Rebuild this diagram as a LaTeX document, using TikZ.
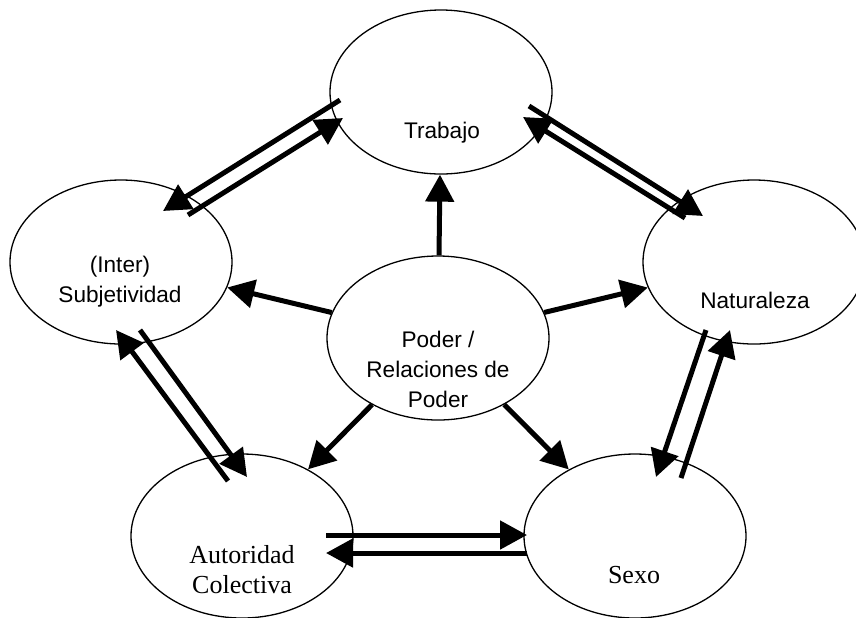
\documentclass[tikz,border=0pt]{standalone}
\usepackage{fontspec}
\setmainfont{Liberation Serif}
\setsansfont{Liberation Sans}
\usetikzlibrary{shapes.geometric,arrows.meta}

\tikzset{
  bubble/.style={draw, ellipse, line width=0.65pt, minimum width=111pt, minimum height=82pt, inner sep=0pt},
  arr/.style={line width=2.5pt, -{Triangle[length=13.5pt,width=14pt]}},
  sanstxt/.style={font=\sffamily\fontsize{11.3}{15}\selectfont, align=center, anchor=base, inner sep=0pt},
  seriftxt/.style={font=\rmfamily\fontsize{13}{15}\selectfont, align=center, anchor=base, inner sep=0pt}
}

\begin{document}
\begin{tikzpicture}[x=0.5pt, y=-0.5pt]
        \useasboundingbox (0,0) rectangle (856,617);
        % the six ellipses
        \node[bubble] (trab) at (441,92) {};
        \node[bubble] (subj) at (121,262) {};
        \node[bubble] (nat) at (754,262) {};
        \node[bubble] (poder) at (438,338) {};
        \node[bubble] (aut) at (242,536) {};
        \node[bubble] (sexo) at (635,536) {};
        % their texts (base = last line)
        \node[sanstxt] (trab-txt) at (442,138) {Trabajo};
        \node[sanstxt] (subj-txt) at (120,302) {(Inter)\\Subjetividad};
        \node[sanstxt] (nat-txt) at (755,308) {Naturaleza};
        \node[sanstxt] (poder-txt) at (438,407) {Poder /\\Relaciones de\\Poder};
        \node[seriftxt] (aut-txt) at (242,593) {Autoridad\\Colectiva};
        \node[seriftxt] (sexo-txt) at (634,583) {Sexo};
        % from the centre
        \draw[arr] (poder) -- (trab);
        \draw[arr] (poder) -- (subj);
        \draw[arr] (poder) -- (nat);
        \draw[arr] (poder) -- (aut);
        \draw[arr] (poder) -- (sexo);
        % pairs round the ring
        \draw[arr] ([shift={(-101,8)}]trab.center) -- ([shift={(42,-51)}]subj.center);
        \draw[arr] ([shift={(67,-47)}]subj.center) -- ([shift={(-98,26)}]trab.center);
        \draw[arr] ([shift={(88,14)}]trab.center) -- ([shift={(-51,-46)}]nat.center);
        \draw[arr] ([shift={(-69,-44)}]nat.center) -- ([shift={(82,25)}]trab.center);
        \draw[arr] ([shift={(-48,68)}]nat.center) -- ([shift={(21,-59)}]sexo.center);
        \draw[arr] ([shift={(46,-58)}]sexo.center) -- ([shift={(-24,68)}]nat.center);
        \draw[arr] ([shift={(84,-1)}]aut.center) -- ([shift={(-108,-1)}]sexo.center);
        \draw[arr] ([shift={(-108,17)}]sexo.center) -- ([shift={(84,17)}]aut.center);
        \draw[arr] ([shift={(-14,-55)}]aut.center) -- ([shift={(-5,68)}]subj.center);
        \draw[arr] ([shift={(19,68)}]subj.center) -- ([shift={(5,-59)}]aut.center);
    \end{tikzpicture}
\end{document}
